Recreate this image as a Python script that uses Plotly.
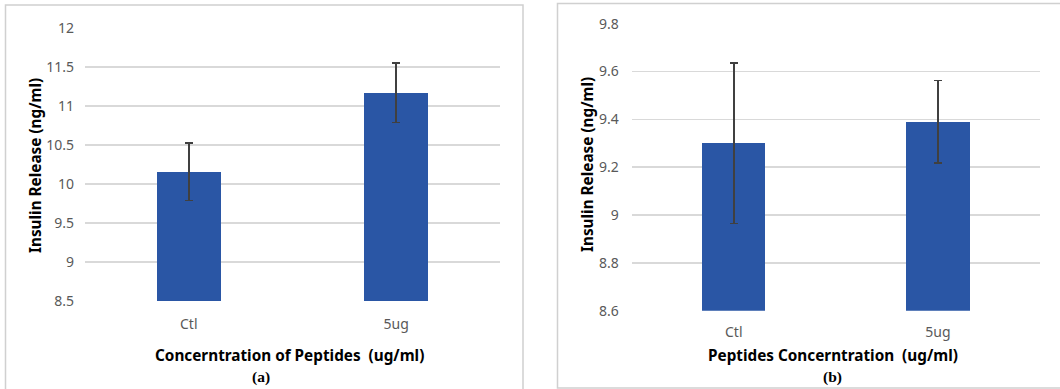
import plotly.graph_objects as go

categories = ["Ctl", "5ug"]
values_a = [10.16, 11.17]
errors_a = [0.37, 0.38]
values_b = [9.30, 9.39]
errors_b = [0.335, 0.173]
yticks_a = [8.5, 9, 9.5, 10, 10.5, 11, 11.5, 12]
yticklabels_a = ["8.5", "9", "9.5", "10", "10.5", "11", "11.5", "12"]
yticks_b = [8.6, 8.8, 9.0, 9.2, 9.4, 9.6, 9.8]
yticklabels_b = ["8.6", "8.8", "9", "9.2", "9.4", "9.6", "9.8"]

W, H = 1060, 389
BAR = "#2A56A5"
GRID = "#d9d9d9"
TICKFONT = dict(family="Noto Sans", size=14, color="#595959")

def px(x):
    return x / W

def py(y):
    return (H - y) / H

fig = go.Figure()
fig.add_trace(go.Bar(
    x=categories, y=values_a, width=0.31, marker=dict(color=BAR, line=dict(width=0)),
    error_y=dict(type="data", array=errors_a, visible=True, color="#404040", thickness=1.7, width=4),
    xaxis="x", yaxis="y", showlegend=False))
fig.add_trace(go.Bar(
    x=categories, y=values_b, width=0.31, marker=dict(color=BAR, line=dict(width=0)),
    error_y=dict(type="data", array=errors_b, visible=True, color="#404040", thickness=1.7, width=4),
    xaxis="x2", yaxis="y2", showlegend=False))

common_x = dict(type="category", range=[-0.5, 1.5], showgrid=False, zeroline=False,
                showline=False, ticks="", tickfont=TICKFONT, fixedrange=True, automargin=False)
common_y = dict(showgrid=True, gridcolor=GRID, gridwidth=1.6, zeroline=False,
                showline=False, ticks="", tickfont=TICKFONT, fixedrange=True, automargin=False)

fig.update_layout(
    width=W, height=H, margin=dict(l=0, r=0, t=0, b=0, pad=0, autoexpand=False),
    paper_bgcolor="white", plot_bgcolor="white",
    bargap=0,
    xaxis=dict(common_x, domain=[px(85), px(500)], anchor="y", ticklabelstandoff=13),
    yaxis=dict(common_y, domain=[py(301), py(28)], range=[8.5, 12], anchor="x",
               tickvals=yticks_a, ticktext=yticklabels_a, ticklabelstandoff=10),
    xaxis2=dict(common_x, domain=[px(631.7), px(1040)], anchor="y2", ticklabelstandoff=11),
    yaxis2=dict(common_y, domain=[py(310.7), py(23.7)], range=[8.6, 9.8], anchor="x2",
                tickvals=yticks_b, ticktext=yticklabels_b, ticklabelstandoff=12),
    font=dict(family="Noto Sans"),
)

# panel frames
fig.add_shape(type="rect", xref="paper", yref="paper",
              x0=px(5.5), x1=px(523), y0=-0.05, y1=py(5),
              line=dict(color="#d0d0d0", width=1.5), fillcolor="rgba(0,0,0,0)", layer="below")
fig.add_shape(type="rect", xref="paper", yref="paper",
              x0=px(557.5), x1=1.05, y0=py(388), y1=py(3.5),
              line=dict(color="#d0d0d0", width=1.5), fillcolor="rgba(0,0,0,0)", layer="below")

TITLE = dict(family="Noto Sans", size=15.3, color="#000000")
YT = dict(family="Noto Sans", size=15.3, color="#000")
ann = [
    dict(text="<b>Insulin Release (ng/ml)</b>", x=px(35), y=py(166), textangle=-90, font=YT),
    dict(text="<b>Insulin Release (ng/ml)</b>", x=px(587), y=py(165), textangle=-90, font=YT),
    dict(text="<b>Concerntration of Peptides  (ug/ml)</b>", x=px(289), y=py(355), font=TITLE),
    dict(text="<b>Peptides Concerntration  (ug/ml)</b>", x=px(833), y=py(355), font=TITLE),
    dict(text="<b>(a)</b>", x=px(261), y=py(377),
         font=dict(family="Liberation Serif", size=15.5, color="#000")),
    dict(text="<b>(b)</b>", x=px(832), y=py(377),
         font=dict(family="Liberation Serif", size=15.5, color="#000")),
]
for a in ann:
    fig.add_annotation(xref="paper", yref="paper", showarrow=False,
                       xanchor="center", yanchor="middle", **a)

fig.write_html(
    "out.html",
    config={"displayModeBar": False, "staticPlot": True},
    post_script="document.body.style.margin='0px';document.body.style.overflow='hidden';",
)
